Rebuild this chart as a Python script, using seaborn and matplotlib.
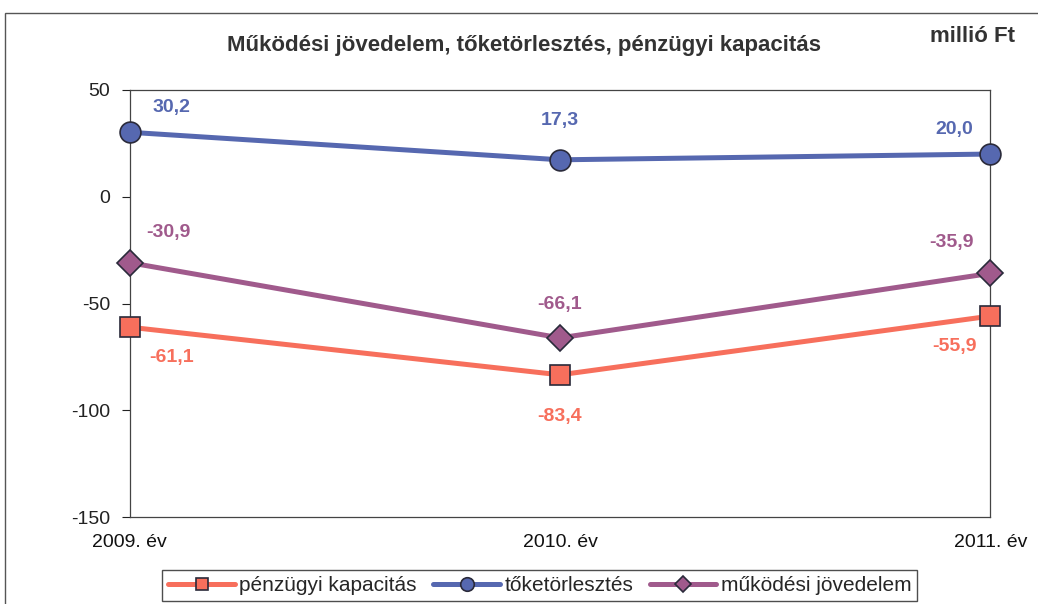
import pandas as pd
import seaborn as sns
import matplotlib.pyplot as plt
from matplotlib.patches import Rectangle

years = ["2009. év", "2010. év", "2011. év"]
penzugyi = [-61.1, -83.4, -55.9]
toketorlesztes = [30.2, 17.3, 20.0]
mukodesi = [-30.9, -66.1, -35.9]

names = ["pénzügyi kapacitás", "tőketörlesztés", "működési jövedelem"]
values = [penzugyi, toketorlesztes, mukodesi]
colors = ["#F76F5C", "#5668B0", "#A05A8C"]
markers = ["s", "o", "D"]
msizes = [14, 15, 13]
# label offsets (points) per series, per year
offsets = [
    [(30, -22), (0, -30), (-26, -22)],
    [(30, 18), (0, 28), (-26, 18)],
    [(28, 22), (0, 24), (-28, 22)],
]

sns.set_theme(style="white")
plt.rcParams['font.family'] = ['Liberation Sans', 'DejaVu Sans']
plt.rcParams['axes.unicode_minus'] = False

fig = plt.figure(figsize=(10.38, 6.04), dpi=100)
ax = fig.add_axes([0.125, 0.144, 0.829, 0.707])

for name, vals, col, mk, ms, offs in zip(names, values, colors, markers, msizes, offsets):
    df = pd.DataFrame({"x": range(len(years)), "y": vals})
    sns.lineplot(data=df, x="x", y="y", ax=ax, color=col, linewidth=3.6,
                 marker=mk, markersize=ms, markeredgecolor="#2a2a3a",
                 markeredgewidth=1.2, label=name, clip_on=False, zorder=3)
    for i, v in enumerate(vals):
        ax.annotate(f"{v:.1f}".replace(".", ","), (i, v), textcoords="offset points",
                    xytext=offs[i], ha="center", va="center", color=col,
                    fontsize=14, fontweight="bold")

ax.set_xlim(0, 2)
ax.set_ylim(-150, 50)
ax.set_yticks([-150, -100, -50, 0, 50])
ax.set_xticks(range(len(years)))
ax.set_xticklabels(years)
ax.set_xlabel("")
ax.set_ylabel("")
ax.tick_params(axis="y", which="both", left=True, length=6, width=0.8, colors="#222222",
               labelsize=14, pad=8)
ax.tick_params(axis="x", labelsize=14, pad=6, colors="#111111")
for s in ax.spines.values():
    s.set_color("#444444")
    s.set_linewidth(0.9)

handles, labels = ax.get_legend_handles_labels()
ax.get_legend().remove()
leg = fig.legend(handles, labels, loc="upper center", bbox_to_anchor=(0.52, 0.057),
                 ncol=3, frameon=True, fancybox=False, edgecolor="#222222",
                 handlelength=3.2, handletextpad=0.2, columnspacing=0.8, markerscale=0.65,
                 borderpad=0.3, borderaxespad=0, prop={"size": 15})
leg.get_frame().set_linewidth(1.0)

fig.text(0.505, 0.925, "Működési jövedelem, tőketörlesztés, pénzügyi kapacitás",
         ha="center", va="center", fontsize=16, fontweight="bold", color="#333333")
fig.text(0.978, 0.94, "millió Ft", ha="right", va="center", fontsize=16,
         fontweight="bold", color="#333333")

fig.patches.append(Rectangle((0.005, -0.05), 1.1, 1.028, transform=fig.transFigure,
                             fill=False, edgecolor="#555555", linewidth=1.0))

fig.savefig("out.png", dpi=100)
